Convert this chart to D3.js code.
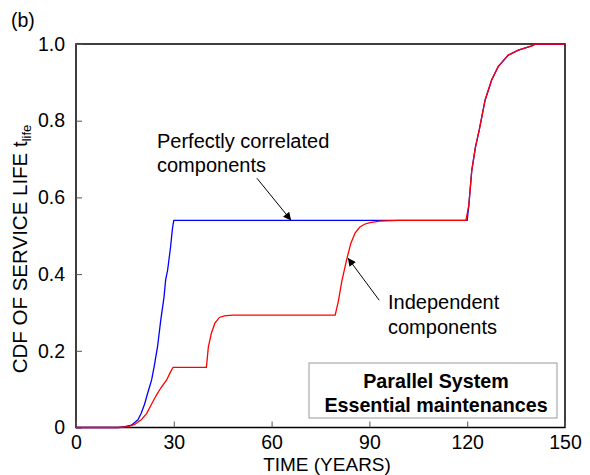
<!DOCTYPE html>
<html><head><meta charset="utf-8">
<script src="https://cdn.jsdelivr.net/npm/d3@7"></script>
<style>
body{margin:0;background:#fff;}
text{font-family:"Liberation Sans",Arial,Helvetica,sans-serif;fill:#000;}
</style></head>
<body><svg id="c" width="590" height="475"></svg>
<script>
const xTicks=[0,30,60,90,120,150];
const yTicks=[0,0.2,0.4,0.6,0.8,1.0];
const yTickLabels=["0","0.2","0.4","0.6","0.8","1.0"];
const timeBlue=[0,13,15,17,19,20,21,22,23.2,24,25,26,27,27.5,28.1,29,29.6,30,120,120.5,121.4,122.5,123.7,125.5,127.5,129.5,132.6,135.7,139.8,141,150];
const cdfBlue=[0,0,0.002,0.006,0.02,0.037,0.06,0.09,0.124,0.16,0.21,0.28,0.34,0.385,0.41,0.47,0.52,0.54,0.54,0.58,0.67,0.73,0.776,0.854,0.906,0.941,0.971,0.984,0.995,1.0,1.0];
const timeRed=[0,13,16,18,20,21.7,23,24.5,26,27.8,29,29.8,40,40.6,41.5,42.6,44,45.5,48,79.5,80.5,81.5,83,84.3,85.6,87,88.5,90.2,93.2,99,119.6,120.5,121.4,122.5,123.7,125.5,127.5,129.5,132.6,135.7,139.8,141,150];
const cdfRed=[0,0,0.002,0.008,0.02,0.037,0.058,0.082,0.103,0.124,0.145,0.157,0.157,0.21,0.245,0.272,0.287,0.291,0.293,0.293,0.33,0.38,0.437,0.48,0.507,0.522,0.53,0.534,0.538,0.54,0.54,0.58,0.67,0.73,0.776,0.854,0.906,0.941,0.971,0.984,0.995,1.0,1.0];
const legendLines=["Parallel System","Essential maintenances"];

const svg=d3.select("#c");
const L=76,R=565,T=44,B=427.5;
const x=d3.scaleLinear().domain([0,150]).range([L,R]);
const y=d3.scaleLinear().domain([0,1]).range([B,T]);
const FS="19.5px";

svg.append("rect").attr("x",L).attr("y",T).attr("width",R-L).attr("height",B-T)
  .attr("fill","none").attr("stroke","#000").attr("stroke-width",1.5);

const xa=svg.append("g").attr("transform",`translate(0,${B})`)
  .call(d3.axisBottom(x).tickValues(xTicks).tickSizeInner(-6).tickSizeOuter(0).tickPadding(8).tickFormat(d3.format("d")));
xa.select(".domain").remove();
xa.selectAll("line").attr("stroke","#555");
xa.selectAll("text").attr("font-size",FS).attr("font-family","Liberation Sans, Arial, sans-serif").attr("fill","#000");

const ya=svg.append("g").attr("transform",`translate(${L},0)`)
  .call(d3.axisLeft(y).tickValues(yTicks).tickSizeInner(-6).tickSizeOuter(0).tickPadding(11).tickFormat((d,i)=>yTickLabels[i]));
ya.select(".domain").remove();
ya.selectAll("line").attr("stroke","#555");
ya.selectAll("text").attr("font-size",FS).attr("font-family","Liberation Sans, Arial, sans-serif").attr("fill","#000");

svg.append("rect").attr("x",309).attr("y",363).attr("width",248).attr("height",55)
  .attr("fill","#fff").attr("stroke","#999").attr("stroke-width",1);
legendLines.forEach((t,i)=>{
  svg.append("text").attr("x",436).attr("y",388+i*23.5).attr("text-anchor","middle")
    .attr("font-size","19.7px").attr("font-weight","bold").text(t);
});

const line=d3.line().x(d=>x(d[0])).y(d=>y(d[1]));
svg.append("path").datum(timeBlue.map((t,i)=>[t,cdfBlue[i]]))
  .attr("d",line).attr("fill","none").attr("stroke","#0000ff").attr("stroke-width",1.3);
svg.append("path").datum(timeRed.map((t,i)=>[t,cdfRed[i]]))
  .attr("d",line).attr("fill","none").attr("stroke","#ff0000").attr("stroke-width",1.3);

const defs=svg.append("defs");
defs.append("marker").attr("id","ah").attr("viewBox","0 0 10 10").attr("refX",10).attr("refY",5)
  .attr("markerWidth",12).attr("markerHeight",8).attr("markerUnits","userSpaceOnUse").attr("orient","auto")
  .append("path").attr("d","M0,0 L10,5 L0,10 Z").attr("fill","#000");
const arrows=[[[55.5,0.65],[66,0.54]],[[93,0.332],[83.4,0.442]]];
arrows.forEach(a=>{
  svg.append("line").attr("x1",x(a[0][0])).attr("y1",y(a[0][1])).attr("x2",x(a[1][0])).attr("y2",y(a[1][1]))
    .attr("stroke","#000").attr("stroke-width",1).attr("marker-end","url(#ah)");
});

const AF="20px";
svg.append("text").attr("x",157).attr("y",148).attr("font-size",AF).text("Perfectly correlated");
svg.append("text").attr("x",157).attr("y",172).attr("font-size",AF).text("components");
svg.append("text").attr("x",388).attr("y",309).attr("font-size",AF).text("Independent");
svg.append("text").attr("x",388).attr("y",334).attr("font-size",AF).text("components");

svg.append("text").attr("x",11).attr("y",27).attr("font-size",FS).text("(b)");
svg.append("text").attr("x",327).attr("y",470.5).attr("text-anchor","middle").attr("font-size","19px").text("TIME (YEARS)");
const yt=svg.append("text").attr("transform","translate(27,249) rotate(-90)").attr("text-anchor","middle").attr("font-size","20.5px");
yt.append("tspan").text("CDF OF SERVICE LIFE t");
yt.append("tspan").attr("font-size","13px").attr("dy",4).text("life");
</script></body></html>
